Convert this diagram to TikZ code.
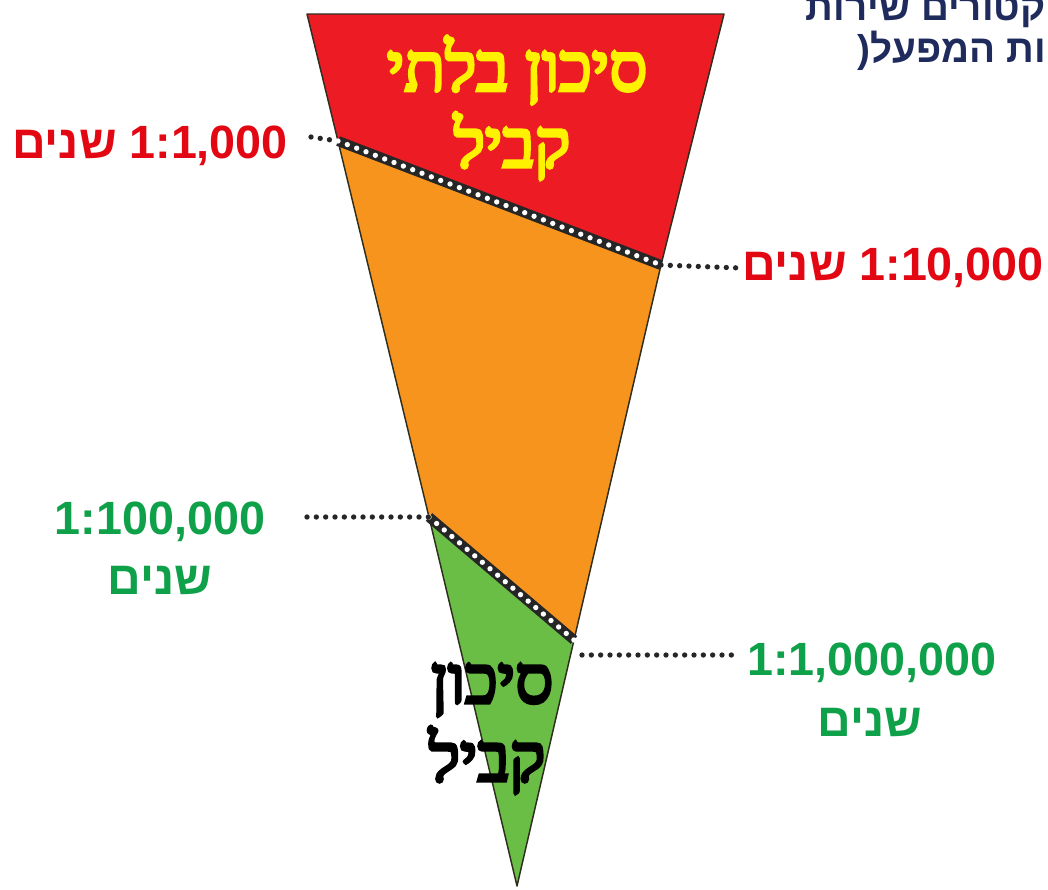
\documentclass[tikz,border=0pt]{standalone}
\usepackage{fontspec}
\setmainfont{Liberation Sans}
\newfontfamily\hebsans[Script=Hebrew]{Liberation Sans}
\newfontfamily\hebheavy[Script=Hebrew, FakeBold=5]{Liberation Serif}
\TeXXeTstate=1
\definecolor{riskred}{HTML}{ED1C24}
\definecolor{riskorange}{HTML}{F7941D}
\definecolor{riskgreen}{HTML}{6ABD45}
\definecolor{labred}{HTML}{E30613}
\definecolor{labgreen}{HTML}{0FA14A}
\definecolor{riskyellow}{HTML}{FFF200}
\definecolor{navytext}{HTML}{1E2B5C}
\definecolor{edgecol}{HTML}{2E2E1E}
\tikzset{
  edgeline/.style={draw=edgecol, line width=1.1pt, line join=round},
  bndblack/.style={draw=black!85, line width=7.5pt},
  bndwhite/.style={draw=white, line width=4pt, dash pattern=on 0pt off 7.5pt, line cap=round},
  leader/.style={draw=black!85, line width=4pt, dash pattern=on 0pt off 7pt, line cap=round},
  lab/.style={font=\fontsize{35}{40}\selectfont\bfseries, inner sep=0pt},
  bigheb/.style={font=\hebheavy\fontsize{50}{56}\selectfont, inner sep=0pt},
  topheb/.style={font=\hebsans\bfseries\fontsize{29}{32}\selectfont, text=navytext, inner sep=0pt}
}
\begin{document}
\begin{tikzpicture}[x=0.75pt,y=-0.75pt]
\useasboundingbox (0,0) rectangle (1048,889);
\fill[white] (0,0) rectangle (1048,889);
\begin{scope}
\clip (0,0) rectangle (1048,889);
\node[topheb, anchor=base east] (topA) at (1046,20) {\beginR קטורים שירות\endR};
\node[topheb, anchor=base east] (topB) at (1046,62) {(\beginR ות המפעל\endR};
\end{scope}
% funnel points
\coordinate (TL) at (307,14);
\coordinate (TR) at (724,14);
\coordinate (A) at (517,886);
\coordinate (B1L) at (338,141);
\coordinate (B1R) at (661,265);
\coordinate (B2L) at (429,517);
\coordinate (B2R) at (574,640);
\fill[riskred] (TL) -- (TR) -- (B1R) -- (B1L) -- cycle;
\fill[riskorange] (B1L) -- (B1R) -- (B2R) -- (B2L) -- cycle;
\fill[riskgreen] (B2L) -- (B2R) -- (A) -- cycle;
\draw[edgeline] (TL) -- (TR) -- (B1R) -- (B2R) -- (A) -- (B2L) -- (B1L) -- cycle;
\draw[bndblack] (B1L) -- (B1R);
\draw[bndwhite] (B1L) -- (B1R);
\draw[bndblack] (B2L) -- (B2R);
\draw[bndwhite] (B2L) -- (B2R);
% labels
\node[lab, text=labred] (l1) at (150,146) {{\hebsans\beginR שנים\endR}\ 1:1,000};
\node[lab, text=labred] (l2) at (893,268) {{\hebsans\beginR שנים\endR}\ 1:10,000};
\node[lab, text=labgreen] (l3) at (160,522) {1:100,000};
\node[lab, text=labgreen, font=\hebsans\bfseries\fontsize{35}{40}\selectfont] (l3b) at (160,580) {\beginR שנים\endR};
\node[lab, text=labgreen] (l4) at (872,663) {1:1,000,000};
\node[lab, text=labgreen, font=\hebsans\bfseries\fontsize{35}{40}\selectfont] (l4b) at (870,722) {\beginR שנים\endR};
% leader ends
\coordinate (e1) at (311,137);
\coordinate (e2) at (740,268);
\coordinate (e3) at (307,517);
\coordinate (s4) at (582,655);
\coordinate (e4) at (735,655);
\draw[leader] (e1) -- (B1L);
\draw[leader] (B1R) -- (e2);
\draw[leader] (e3) -- (B2L);
\draw[leader] (s4) -- (e4);
% region texts
\node[bigheb, text=riskyellow] (t1) at (517,70) {\beginR סיכון בלתי\endR};
\node[bigheb, text=riskyellow] (t2) at (512,146) {\beginR קביל\endR};
\node[bigheb, text=black] (t3) at (492,690) {\beginR סיכון\endR};
\node[bigheb, text=black] (t4) at (487,760) {\beginR קביל\endR};
\end{tikzpicture}
\end{document}
